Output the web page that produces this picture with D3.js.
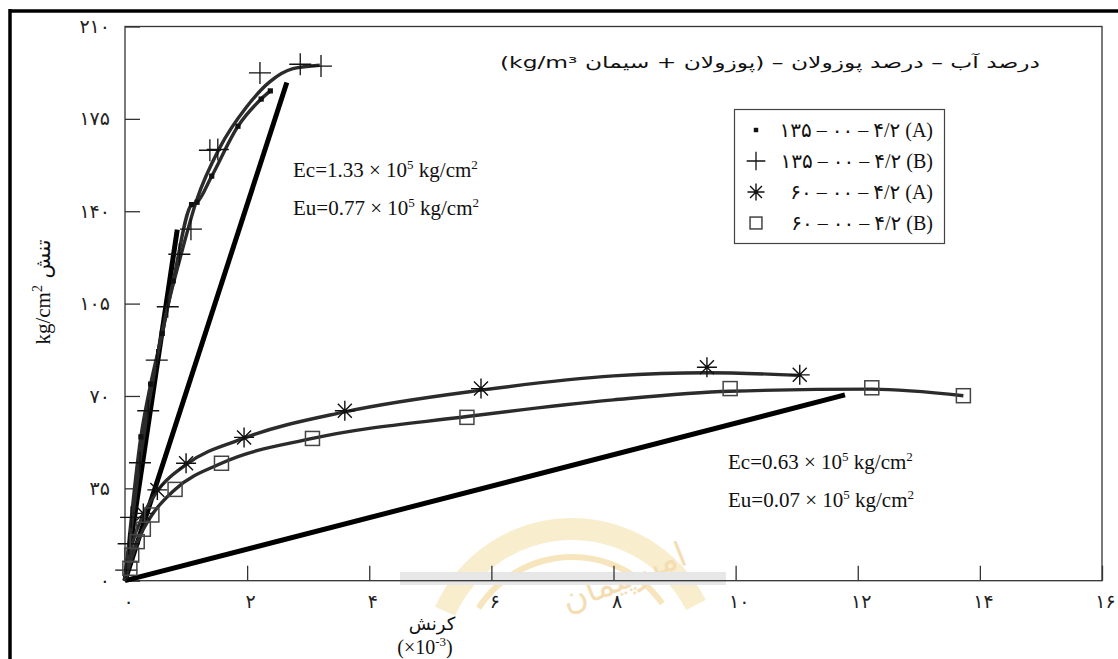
<!DOCTYPE html>
<html>
<head>
<meta charset="utf-8">
<script src="https://cdn.jsdelivr.net/npm/d3@7/dist/d3.min.js"></script>
<style>
  html, body { margin: 0; padding: 0; background: #fff; }
  svg { display: block; }
  text { font-family: "Liberation Serif", "DejaVu Serif", "DejaVu Sans", serif; fill: #111; }
  .fa { font-family: "DejaVu Sans", "Noto Sans", sans-serif; }
</style>
</head>
<body>
<svg id="chart" width="1118" height="659"></svg>
<script>
// Strain in units of 1e-3, stress in kg/cm2
const xTicks = [0, 2, 4, 6, 8, 10, 12, 14, 16];
const xTickLabels = ["۰", "۲", "۴", "۶", "۸", "۱۰", "۱۲", "۱۴", "۱۶"];
const yTicks = [0, 35, 70, 105, 140, 175, 210];
const yTickLabels = ["۰", "۳۵", "۷۰", "۱۰۵", "۱۴۰", "۱۷۵", "۲۱۰"];

// 135 kg/m3 mix, specimen A (small squares)
const s135A = [[0, 0], [0.26, 54.5], [0.42, 74.5], [0.61, 93.7], [0.79, 113.6], [1.09, 142.5],
  [1.18, 143.4], [1.42, 153.3], [1.85, 172.2], [2.23, 182.5], [2.38, 185.6]];
// 135 kg/m3 mix, specimen B (plus signs)
const s135B = [[0.02, 4], [0.06, 14], [0.1, 24], [0.245, 44.7], [0.38, 64.4], [0.52, 83.6],
  [0.70, 103.8], [0.89, 123.7], [1.08, 133.2], [1.39, 163.1], [1.52, 163.4], [2.21, 192.4],
  [2.87, 195.7], [3.21, 195]];
const fit135B = [[0, 0], [0.25, 46], [0.52, 84], [0.7, 104], [0.9, 122], [1.17, 144], [1.55, 164],
  [1.99, 179.5], [2.37, 189], [2.75, 194], [3.19, 195.3]];
// 60 kg/m3 mix, specimen A (asterisks)
const s60A = [[0.3, 25.5], [0.53, 34.4], [1.0, 44.5], [1.95, 54.3], [3.6, 64.4], [5.83, 72.8],
  [9.53, 80.9], [11.05, 78]];
const fit60A = [[0, 0], [0.12, 14], [0.3, 25], [0.53, 34], [1.0, 44], [1.95, 54], [3.6, 64],
  [5.83, 72.2], [8.0, 77.6], [9.53, 78.8], [11.05, 77.8]];
// 60 kg/m3 mix, specimen B (open squares)
const s60B = [[0.08, 4.7], [0.11, 9.7], [0.2, 14.8], [0.3, 19.5], [0.44, 24.9], [0.82, 34.6],
  [1.58, 44.5], [3.07, 53.9], [5.6, 61.9], [9.91, 72.8], [12.23, 73.1], [13.73, 70.1]];
const fit60B = [[0, 0], [0.1, 8], [0.2, 14.5], [0.3, 19.5], [0.44, 24.9], [0.82, 34.6], [1.58, 44.5],
  [3.07, 53.9], [5.6, 62.2], [8.0, 68.5], [9.91, 71.8], [12.23, 72.6], [13.73, 70.1]];

// Modulus lines drawn from the origin
const modulusLines = [
  [[0, 0], [0.856, 133]],
  [[0, 0], [2.65, 188.8]],
  [[0, 0], [11.79, 70.4]]
];

const legendLabels = ["۱۳۵ – ۰۰ – ۴/۲ (A)", "۱۳۵ – ۰۰ – ۴/۲ (B)", "۶۰ – ۰۰ – ۴/۲ (A)", "۶۰ – ۰۰ –  ۴/۲ (B)"];
const legendSymbols = ["dot", "plus", "star", "box"];

const svg = d3.select("#chart");
const x = d3.scaleLinear().domain([0, 16]).range([125, 1102]);
const y = d3.scaleLinear().domain([0, 210]).range([580.7, 26.5]);

// faint seal in the lower middle
const seal = svg.append("g").attr("opacity", 0.42);
const ring = d3.arc();
seal.append("path")
  .attr("transform", "translate(572,668)")
  .attr("d", ring({innerRadius: 128, outerRadius: 150, startAngle: -1.15, endAngle: 1.1}))
  .attr("fill", "#f0d58a");
seal.append("path")
  .attr("transform", "translate(572,668)")
  .attr("d", ring({innerRadius: 108, outerRadius: 114, startAngle: -1.0, endAngle: 0.95}))
  .attr("fill", "#eec266");
seal.append("text").attr("class", "fa")
  .attr("transform", "translate(628,588) rotate(-22)")
  .attr("text-anchor", "middle").attr("direction", "rtl")
  .style("font-size", "34px").style("fill", "#e6b04a")
  .text("امیرپیمان");
seal.append("rect").attr("x", 400).attr("y", 572).attr("width", 326).attr("height", 13)
  .attr("fill", "#c8c8c8");

// outer frame (left and top)
svg.append("line").attr("x1", 10).attr("x2", 10).attr("y1", 9).attr("y2", 659)
  .attr("stroke", "#000").attr("stroke-width", 3.5);
svg.append("line").attr("x1", 9).attr("x2", 1118).attr("y1", 11).attr("y2", 11)
  .attr("stroke", "#000").attr("stroke-width", 3.5);

// plot box
svg.append("rect")
  .attr("x", x(0)).attr("y", y(210))
  .attr("width", x(16) - x(0)).attr("height", y(0) - y(210))
  .attr("fill", "none").attr("stroke", "#333").attr("stroke-width", 1.3);

// axes with inward ticks
const yAxis = d3.axisLeft(y).tickValues(yTicks)
  .tickFormat((d, i) => yTickLabels[i]).tickSize(-15).tickPadding(15);
svg.append("g").attr("transform", `translate(${x(0)},0)`).call(yAxis)
  .call(g => g.select(".domain").remove())
  .call(g => g.selectAll("line").attr("stroke", "#333").attr("stroke-width", 1.3))
  .call(g => g.selectAll("text").attr("class", "fa").style("font-size", "19px").style("fill", "#222"));

const xAxis = d3.axisBottom(x).tickValues(xTicks)
  .tickFormat((d, i) => xTickLabels[i]).tickSize(-15).tickPadding(14);
svg.append("g").attr("transform", `translate(0,${y(0)})`).call(xAxis)
  .call(g => g.select(".domain").remove())
  .call(g => g.selectAll("line").attr("stroke", "#333").attr("stroke-width", 1.3))
  .call(g => g.selectAll("text").attr("class", "fa").attr("dx", 3).style("font-size", "19px").style("fill", "#222"));

// modulus lines
const straight = d3.line().x(d => x(d[0])).y(d => y(d[1]));
svg.append("g").selectAll("path").data(modulusLines).join("path")
  .attr("d", straight).attr("fill", "none").attr("stroke", "#000")
  .attr("stroke-width", 5).attr("stroke-linecap", "butt");

// fitted curves
const smooth = d3.line().x(d => x(d[0])).y(d => y(d[1])).curve(d3.curveMonotoneX);
const curves = [[[0, 0]].concat(s135A), fit135B, fit60A, fit60B];
svg.append("g").selectAll("path").data(curves).join("path")
  .attr("d", smooth).attr("fill", "none").attr("stroke", "#2b2b2b")
  .attr("stroke-width", 3.4).attr("stroke-linejoin", "round");

// marker drawing
function marker(g, kind, cx, cy, scale) {
  const k = scale || 1;
  if (kind === "dot") {
    g.append("rect").attr("x", cx - 2.6 * k).attr("y", cy - 2.6 * k)
      .attr("width", 5.2 * k).attr("height", 5.2 * k).attr("fill", "#111");
  } else if (kind === "plus") {
    const h = 11 * k;
    g.append("path").attr("d", `M${cx - h},${cy}H${cx + h}M${cx},${cy - h}V${cy + h}`)
      .attr("stroke", "#111").attr("stroke-width", 1.3).attr("fill", "none");
  } else if (kind === "star") {
    const h = 10 * k, d = 7 * k;
    g.append("path").attr("d",
      `M${cx - h},${cy}H${cx + h}M${cx},${cy - h}V${cy + h}` +
      `M${cx - d},${cy - d}L${cx + d},${cy + d}M${cx - d},${cy + d}L${cx + d},${cy - d}`)
      .attr("stroke", "#111").attr("stroke-width", 1.4).attr("fill", "none");
  } else {
    const h = 7 * k;
    g.append("rect").attr("x", cx - h).attr("y", cy - h).attr("width", 2 * h).attr("height", 2 * h)
      .attr("fill", "none").attr("stroke", "#444").attr("stroke-width", 1.5);
  }
}

const markerGroup = svg.append("g");
[[s135A.slice(1), "dot"], [s135B, "plus"], [s60A, "star"], [s60B, "box"]].forEach(([pts, kind]) => {
  pts.forEach(p => marker(markerGroup, kind, x(p[0]), y(p[1])));
});

// legend
const lg = svg.append("g");
lg.append("rect").attr("x", 734.5).attr("y", 109.5).attr("width", 210).attr("height", 134)
  .attr("fill", "#fff").attr("stroke", "#444").attr("stroke-width", 1.2);
legendLabels.forEach((t, i) => {
  const cy = 130 + i * 31;
  marker(lg, legendSymbols[i], 756, cy, 0.85);
  lg.append("text").attr("x", 933).attr("y", cy + 7).attr("text-anchor", "end")
    .attr("direction", "ltr").style("font-size", "20px").text(t);
});

// heading of the legend
svg.append("text").attr("class", "fa").attr("x", 1040).attr("y", 68)
  .attr("text-anchor", "start").attr("direction", "rtl")
  .attr("textLength", 540).attr("lengthAdjust", "spacingAndGlyphs")
  .style("font-size", "16px")
  .text("درصد آب – درصد پوزولان – (پوزولان + سیمان kg/m³)");

// modulus annotations
function modulusText(px, py, name, val) {
  const t = svg.append("text").attr("x", px).attr("y", py).style("font-size", "21px");
  t.append("tspan").text(`${name}=${val} × 10`);
  t.append("tspan").attr("dy", -8).style("font-size", "13px").text("5");
  t.append("tspan").attr("dy", 8).text(" kg/cm");
  t.append("tspan").attr("dy", -8).style("font-size", "13px").text("2");
}
modulusText(293, 177, "Ec", "1.33");
modulusText(293, 215, "Eu", "0.77");
modulusText(728, 469, "Ec", "0.63");
modulusText(728, 507, "Eu", "0.07");

// axis titles
const yt = svg.append("text").attr("transform", "translate(50,292) rotate(-90)")
  .attr("text-anchor", "middle").style("font-size", "21px");
yt.append("tspan").text("kg/cm");
yt.append("tspan").attr("dy", -8).style("font-size", "14px").text("2");
yt.append("tspan").attr("dy", 8).attr("class", "fa").text(" تنش");

svg.append("text").attr("class", "fa").attr("x", 432).attr("y", 630)
  .attr("text-anchor", "middle").style("font-size", "18px").text("کرنش");
const xt = svg.append("text").attr("x", 425).attr("y", 654).attr("text-anchor", "middle")
  .style("font-size", "20px");
xt.append("tspan").text("(×10");
xt.append("tspan").attr("dy", -8).style("font-size", "13px").text("-3");
xt.append("tspan").attr("dy", 8).text(")");
</script>
</body>
</html>
